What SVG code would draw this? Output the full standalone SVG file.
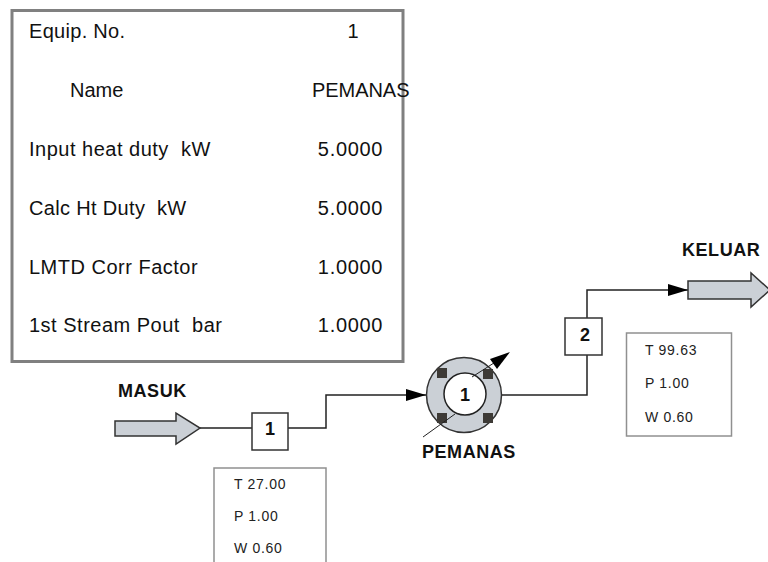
<svg xmlns="http://www.w3.org/2000/svg" width="768" height="562" viewBox="0 0 768 562">
<style>
text{font-family:"Liberation Sans",Arial,sans-serif;fill:#111;white-space:pre}
.t{font-size:20px}
.l{letter-spacing:.5px}
.v{font-size:20px;letter-spacing:.7px;text-anchor:middle}
.s{font-size:14px;letter-spacing:.7px;fill:#222}
.b{font-size:18px;font-weight:bold;letter-spacing:.55px;fill:#111}
.n{font-size:18px;font-weight:bold;text-anchor:middle;fill:#111}
.m{text-anchor:middle}
.box{fill:#fff;stroke:#909090;stroke-width:1.5}
.tag{fill:#fff;stroke:#333;stroke-width:1.5}
.ln{fill:none;stroke:#222;stroke-width:1.5}
.ar{fill:#cbd0d6;stroke:#333;stroke-width:1.5}
.sq{fill:#3d3a36}
</style>
<defs><marker id="a" markerUnits="userSpaceOnUse" markerWidth="22" markerHeight="14" refX="20" refY="7" orient="auto"><path d="M0 1 L20 7 L0 13Z" fill="#000"/></marker></defs>
<g id="table">
<rect x="12" y="10.500" width="391" height="351" fill="#fff" stroke="#808080" stroke-width="3"/>
<text class="t" x="29" y="37.500" letter-spacing=".3">Equip. No.</text><text class="t m" x="353" y="37.500">1</text>
<text class="t" x="70" y="96.500">Name</text><text class="t" x="312" y="96.500" letter-spacing="-.05">PEMANAS</text>
<text class="t l" x="29" y="155.500">Input heat duty  kW</text><text class="v" x="350.500" y="155.500">5.0000</text>
<text class="t" x="29" y="214.500" letter-spacing=".33">Calc Ht Duty  kW</text><text class="v" x="350.500" y="214.500">5.0000</text>
<text class="t l" x="29" y="273.500">LMTD Corr Factor</text><text class="v" x="350.500" y="273.500">1.0000</text>
<text class="t l" x="29" y="331.500">1st Stream Pout  bar</text><text class="v" x="350.500" y="331.500">1.0000</text>
</g>
<g id="connectors">
<path class="ln" d="M200 428H252M288 428H326V395H426" marker-end="url(#a)"/>
<path class="ln" d="M502 395H587V290H688" marker-end="url(#a)"/>
</g>
<g id="masuk"><text class="b" x="118" y="397">MASUK</text>
<path class="ar" d="M115 421H176V413L200 428L176 444V436H115Z"/></g>
<g id="stream1"><rect class="tag" x="252" y="413" width="36" height="37"/><text class="n" x="270" y="435">1</text></g>
<g id="info1"><path class="box" d="M214 562V468H326V562"/>
<text class="s" x="234" y="489">T 27.00</text><text class="s" x="234" y="521">P 1.00</text><text class="s" x="234" y="553">W 0.60</text></g>
<g id="pemanas">
<circle cx="464" cy="395" r="37.500" fill="#cbd0d6" stroke="#333" stroke-width="1.5"/>
<circle cx="465" cy="394" r="21" fill="#fff" stroke="#222" stroke-width="1.5"/>
<rect class="sq" x="437" y="368" width="10" height="10"/><rect class="sq" x="483" y="369" width="10" height="10"/><rect class="sq" x="437" y="413" width="10" height="10"/><rect class="sq" x="483" y="413" width="10" height="10"/>
<path d="M423 437L455 414M472 377L497 361" class="ln" style="stroke-width:1"/><path d="M510 352L490 359L497 369Z" fill="#000"/>
<text class="n" x="465" y="401">1</text><text class="b" x="422" y="458" letter-spacing="1.1">PEMANAS</text></g>
<g id="stream2"><rect class="tag" x="565" y="318" width="37" height="37"/><text class="n" x="585" y="341">2</text></g>
<g id="info2"><rect class="box" x="626.500" y="333" width="105" height="103"/>
<text class="s" x="645" y="355">T 99.63</text><text class="s" x="645" y="388">P 1.00</text><text class="s" x="645" y="422">W 0.60</text></g>
<g id="keluar"><text class="b" x="682" y="256" letter-spacing=".4">KELUAR</text>
<path class="ar" d="M688 281H751V273L770 290L751 307V299H688Z"/></g>
</svg>
